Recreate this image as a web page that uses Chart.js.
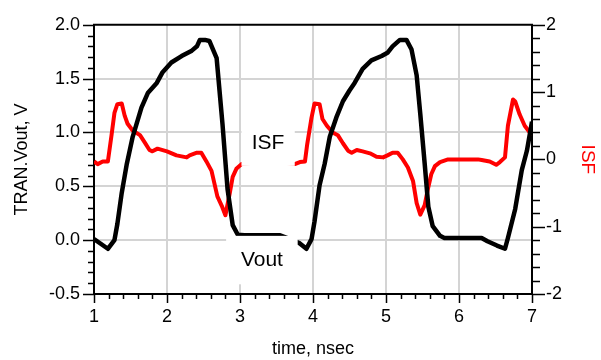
<!DOCTYPE html>
<html>
<head>
<meta charset="utf-8">
<script src="https://cdn.jsdelivr.net/npm/chart.js@4/dist/chart.umd.min.js"></script>
<style>
  html, body { margin: 0; padding: 0; background: #fff; }
  #wrap { width: 601px; height: 360px; }
</style>
</head>
<body>
<div id="wrap"><canvas id="tranChart" width="601" height="360"></canvas></div>
<script>
// TRAN.Vout (left axis, V) vs time (nsec)
var vTime = [1.00,1.19,1.28,1.32,1.38,1.45,1.53,1.65,1.74,1.86,1.94,2.06,2.20,2.34,2.41,2.45,2.52,2.58,2.68,2.76,
             2.83,2.90,2.97,3.06,3.55,3.65,3.82,3.91,3.98,4.02,4.09,4.16,4.23,4.32,4.41,4.50,4.57,4.68,4.80,4.94,
             5.02,5.09,5.19,5.28,5.35,5.42,5.47,5.53,5.58,5.64,5.74,5.80,6.31,6.39,6.52,6.63,6.67,6.77,6.86,6.93,7.00];
var vOut  = [0.01,-0.08,0.00,0.15,0.44,0.71,0.96,1.23,1.37,1.46,1.56,1.65,1.71,1.76,1.80,1.86,1.86,1.85,1.69,1.08,
             0.47,0.14,0.05,0.045,0.045,0.02,-0.03,-0.08,0.01,0.17,0.51,0.71,0.96,1.14,1.29,1.39,1.46,1.59,1.67,1.71,
             1.74,1.80,1.86,1.86,1.77,1.53,1.17,0.71,0.31,0.13,0.04,0.02,0.02,-0.01,-0.05,-0.08,0.02,0.29,0.65,0.83,1.10];

// ISF (right axis)
var isfTime = [1.00,1.05,1.12,1.19,1.24,1.28,1.32,1.38,1.42,1.46,1.53,1.63,1.69,1.76,1.80,1.87,2.00,2.13,2.27,2.31,
               2.41,2.47,2.54,2.61,2.65,2.69,2.75,2.80,2.86,2.90,2.95,3.02,3.27,3.54,3.75,3.82,3.89,3.92,3.98,4.02,
               4.09,4.13,4.19,4.27,4.34,4.41,4.48,4.53,4.60,4.68,4.78,4.87,4.96,5.02,5.09,5.16,5.23,5.30,5.37,5.42,
               5.47,5.53,5.57,5.62,5.67,5.74,5.85,6.26,6.31,6.42,6.51,6.56,6.63,6.67,6.74,6.77,6.83,6.90,6.97,7.00];
var isfVal  = [-0.03,-0.07,-0.03,-0.03,0.36,0.69,0.82,0.83,0.65,0.53,0.43,0.36,0.26,0.14,0.12,0.16,0.12,0.06,0.03,0.06,
               0.10,0.10,-0.03,-0.17,-0.36,-0.55,-0.69,-0.83,-0.50,-0.26,-0.14,-0.07,-0.04,-0.04,-0.07,-0.04,-0.03,0.22,0.62,0.83,
               0.82,0.60,0.50,0.40,0.36,0.24,0.13,0.10,0.14,0.12,0.09,0.04,0.03,0.06,0.10,0.10,0.00,-0.12,-0.32,-0.65,
               -0.82,-0.68,-0.46,-0.22,-0.10,-0.04,0.00,0.00,-0.01,-0.03,-0.08,-0.04,0.03,0.50,0.89,0.86,0.67,0.50,0.40,0.36];

// labels placed on the plot, in data units (time, left axis)
var markerLabels = [
  { text: 'ISF',  x0: 3.02, x1: 3.75, y0: 1.12, y1: 0.69 },
  { text: 'Vout', x0: 2.81, x1: 3.79, y0: 0.04, y1: -0.41 }
];

var FONT = 'Arial, "Liberation Sans", sans-serif';

function toPoints(xs, ys) {
  var pts = [];
  for (var i = 0; i < xs.length; i++) pts.push({ x: xs[i], y: ys[i] });
  return pts;
}

var frameAndTicks = {
  id: 'frameAndTicks',
  afterDraw: function(chart) {
    var ctx = chart.ctx, a = chart.chartArea;
    var sx = chart.scales.x, sy = chart.scales.y, sy1 = chart.scales.y1;
    var i, p, len;
    ctx.save();
    ctx.strokeStyle = '#000';
    ctx.lineWidth = 1.5;
    ctx.beginPath();
    // x ticks every 0.2
    for (i = 0; i <= 30; i++) {
      p = Math.round(sx.getPixelForValue(1 + i * 0.2)) + 0.5;
      len = (i % 5 === 0) ? 9 : 5;
      ctx.moveTo(p, a.bottom); ctx.lineTo(p, a.bottom + len);
    }
    // left ticks every 0.1
    for (i = 0; i <= 25; i++) {
      p = Math.round(sy.getPixelForValue(-0.5 + i * 0.1)) + 0.5;
      len = (i % 5 === 0) ? 11 : 6;
      ctx.moveTo(a.left, p); ctx.lineTo(a.left - len, p);
    }
    // right ticks every 0.2
    for (i = 0; i <= 20; i++) {
      p = Math.round(sy1.getPixelForValue(-2 + i * 0.2)) + 0.5;
      len = (i % 5 === 0) ? 13 : 8;
      ctx.moveTo(a.right, p); ctx.lineTo(a.right + len, p);
    }
    ctx.stroke();
    // top frame
    ctx.lineWidth = 2;
    ctx.beginPath();
    ctx.moveTo(a.left - 1, a.top); ctx.lineTo(a.right + 1, a.top);
    ctx.stroke();
    ctx.restore();
  },
  afterDatasetsDraw: function(chart) {
    var ctx = chart.ctx;
    var sx = chart.scales.x, sy = chart.scales.y;
    ctx.save();
    markerLabels.forEach(function(m) {
      var l = sx.getPixelForValue(m.x0), r = sx.getPixelForValue(m.x1);
      var t = sy.getPixelForValue(m.y0), b = sy.getPixelForValue(m.y1);
      ctx.fillStyle = '#fff';
      ctx.fillRect(l, t, r - l, b - t);
      ctx.fillStyle = '#000';
      ctx.font = '21px ' + FONT;
      ctx.textAlign = 'center';
      ctx.textBaseline = 'middle';
      ctx.fillText(m.text, (l + r) / 2, (t + b) / 2);
    });
    ctx.restore();
  }
};

var gridColor = '#d4d4d4';

var ctx = document.getElementById('tranChart').getContext('2d');
var tranChart = new Chart(ctx, {
  type: 'line',
  data: {
    datasets: [{
      label: 'Vout',
      data: toPoints(vTime, vOut),
      yAxisID: 'y',
      borderColor: '#000000',
      borderWidth: 4.5,
      pointRadius: 0,
      tension: 0,
      borderJoinStyle: 'round',
      fill: false
    }, {
      label: 'ISF',
      data: toPoints(isfTime, isfVal),
      yAxisID: 'y1',
      borderColor: '#ff0000',
      borderWidth: 4,
      pointRadius: 0,
      tension: 0,
      borderJoinStyle: 'round',
      fill: false
    }]
  },
  options: {
    responsive: false,
    animation: false,
    layout: { padding: { top: 16, left: 0, right: 0, bottom: 0 } },
    plugins: {
      legend: { display: false },
      tooltip: { enabled: false }
    },
    scales: {
      x: {
        type: 'linear',
        min: 1,
        max: 7,
        afterFit: function(s) { s.height = 66; },
        ticks: {
          stepSize: 1,
          padding: 12,
          color: '#000',
          font: { family: FONT, size: 18 },
          maxRotation: 0
        },
        grid: {
          drawTicks: false,
          lineWidth: 2,
          color: function(c) {
            return (c.tick && c.tick.value > 1 && c.tick.value < 7) ? gridColor : 'rgba(0,0,0,0)';
          }
        },
        border: { color: '#000', width: 2 },
        title: {
          display: true,
          text: 'time, nsec',
          color: '#000',
          font: { family: FONT, size: 18 },
          padding: { top: 0, bottom: 0 }
        }
      },
      y: {
        position: 'left',
        min: -0.5,
        max: 2,
        afterFit: function(s) { s.width = 94; },
        ticks: {
          stepSize: 0.5,
          padding: 14,
          color: '#000',
          font: { family: FONT, size: 18 },
          callback: function(v) { return v.toFixed(1); }
        },
        grid: {
          drawTicks: false,
          lineWidth: 2,
          color: function(c) {
            return (c.tick && c.tick.value > -0.5 && c.tick.value < 2) ? gridColor : 'rgba(0,0,0,0)';
          }
        },
        border: { color: '#000', width: 2 },
        title: {
          display: true,
          text: 'TRAN.Vout, V',
          color: '#000',
          font: { family: FONT, size: 18 },
          padding: { top: 11, bottom: 0 }
        }
      },
      y1: {
        position: 'right',
        min: -2,
        max: 2,
        afterFit: function(s) { s.width = 69; },
        ticks: {
          stepSize: 1,
          padding: 14,
          color: '#000',
          font: { family: FONT, size: 18 }
        },
        grid: { drawTicks: false, drawOnChartArea: false },
        border: { color: '#000', width: 2 },
        title: {
          display: true,
          text: 'ISF',
          color: '#ff0000',
          font: { family: FONT, size: 19 },
          padding: { top: 2, bottom: 0 }
        }
      }
    }
  },
  plugins: [frameAndTicks]
});
</script>
</body>
</html>
